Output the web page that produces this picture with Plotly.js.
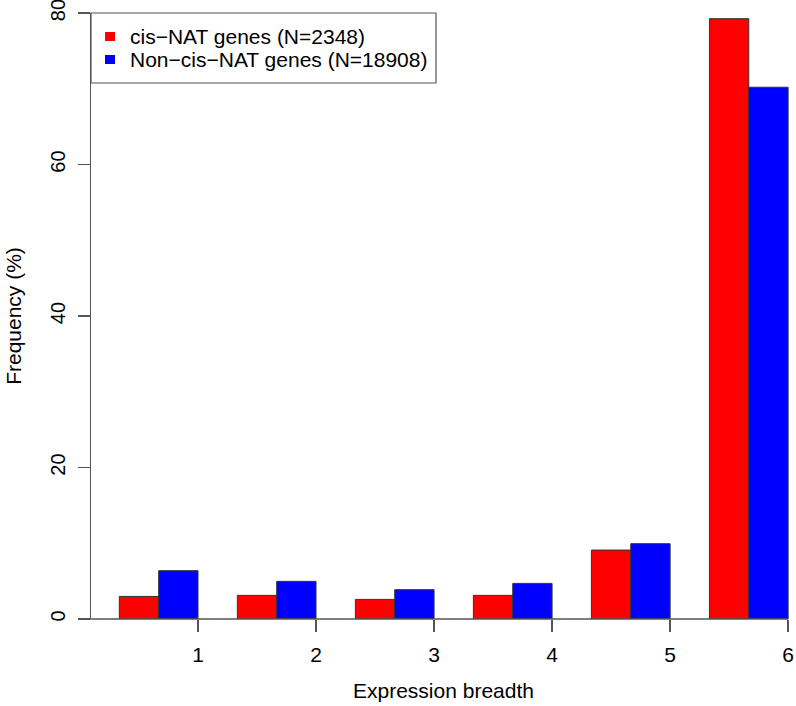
<!DOCTYPE html>
<html>
<head>
<meta charset="utf-8">
<script src="https://cdn.plot.ly/plotly-3.0.1.min.js"></script>
<style>html,body{margin:0;padding:0;background:#fff;}#chart{width:796px;height:706px;}</style>
</head>
<body>
<div id="chart"></div>
<script>
// ---- data ----
const categories = ["1", "2", "3", "4", "5", "6"];
const seriesNames = ["cis\u2212NAT genes (N=2348)", "Non\u2212cis\u2212NAT genes (N=18908)"];
const cisNAT = [2.98, 3.12, 2.59, 3.12, 9.1, 79.25];
const nonCisNAT = [6.38, 4.97, 3.87, 4.70, 9.94, 70.2];
const yTicks = [0, 20, 40, 60, 80];
const seriesColors = ["#ff0000", "#0000ff"];

// R barplot layout: each group = 1 space + 2 bars of width 1
const groupPos = categories.map((c, i) => 3 * i);
const redX = groupPos.map(g => g + 1.5);
const blueX = groupPos.map(g => g + 2.5);
const tickPos = groupPos.map(g => g + 3);

const W = 796, H = 706;
const m = {l: 91, r: 0, t: 13, b: 87};
const xr = [0.28, 18.2];
const pw = W - m.l - m.r, ph = H - m.t - m.b;
const px2paperX = p => (p - m.l) / pw;
const px2paperY = p => (H - m.b - p) / ph;
const u2paper = u => (u - xr[0]) / (xr[1] - xr[0]);

const font = {family: "Liberation Sans, Arial, sans-serif", size: 21, color: "#000"};
const yTickFont = {family: "Liberation Sans, Arial, sans-serif", size: 20, color: "#000"};
const axisCol = "#555";

const traces = [
  {type: "bar", x: redX, y: cisNAT, width: 1, name: seriesNames[0],
   marker: {color: seriesColors[0], line: {color: "#333", width: 1}}, hoverinfo: "y"},
  {type: "bar", x: blueX, y: nonCisNAT, width: 1, name: seriesNames[1],
   marker: {color: seriesColors[1], line: {color: "#333", width: 1}}, hoverinfo: "y"}
];

const shapes = [
  // x axis line (from 0 to last tick, like R)
  {type: "line", xref: "paper", yref: "paper", x0: u2paper(0), x1: u2paper(tickPos[tickPos.length - 1]),
   y0: 0, y1: 0, line: {color: axisCol, width: 1.5}},
  // legend box
  {type: "rect", xref: "paper", yref: "paper", x0: px2paperX(91), x1: px2paperX(436),
   y0: px2paperY(83), y1: px2paperY(13), line: {color: axisCol, width: 1.2}, fillcolor: "rgba(255,255,255,0)"},
  {type: "rect", xref: "paper", yref: "paper", x0: px2paperX(105), x1: px2paperX(115),
   y0: px2paperY(41), y1: px2paperY(32), line: {width: 0}, fillcolor: seriesColors[0]},
  {type: "rect", xref: "paper", yref: "paper", x0: px2paperX(105), x1: px2paperX(115),
   y0: px2paperY(64), y1: px2paperY(55), line: {width: 0}, fillcolor: seriesColors[1]}
];

const annotations = [
  {xref: "paper", yref: "paper", x: px2paperX(128), y: px2paperY(36.5), xanchor: "left", yanchor: "middle",
   text: seriesNames[0], showarrow: false, font: font},
  {xref: "paper", yref: "paper", x: px2paperX(128), y: px2paperY(59.5), xanchor: "left", yanchor: "middle",
   text: seriesNames[1], showarrow: false, font: font}
];

const layout = {
  width: W, height: H,
  margin: m,
  paper_bgcolor: "#fff", plot_bgcolor: "#fff",
  showlegend: false,
  barmode: "overlay",
  font: font,
  xaxis: {
    range: xr, showgrid: false, zeroline: false, showline: false,
    tickmode: "array", tickvals: tickPos, ticktext: categories,
    ticks: "outside", ticklen: 12, tickwidth: 1.5, tickcolor: axisCol,
    tickfont: font, ticklabelstandoff: 5,
    title: {text: "Expression breadth", font: font, standoff: 18}
  },
  yaxis: {
    range: [0, 80.0001], showgrid: false, zeroline: false,
    showline: true, linecolor: axisCol, linewidth: 1.5,
    tickmode: "array", tickvals: yTicks, ticktext: yTicks.map(String),
    ticks: "outside", ticklen: 12, tickwidth: 1.5, tickcolor: axisCol,
    tickangle: -90, tickfont: yTickFont, ticklabelstandoff: 5, ticklabeloverflow: "allow",
    title: {text: "Frequency (%)", font: font, standoff: 19}
  },
  shapes: shapes,
  annotations: annotations
};

Plotly.newPlot("chart", traces, layout, {displayModeBar: false, staticPlot: true});
</script>
</body>
</html>
